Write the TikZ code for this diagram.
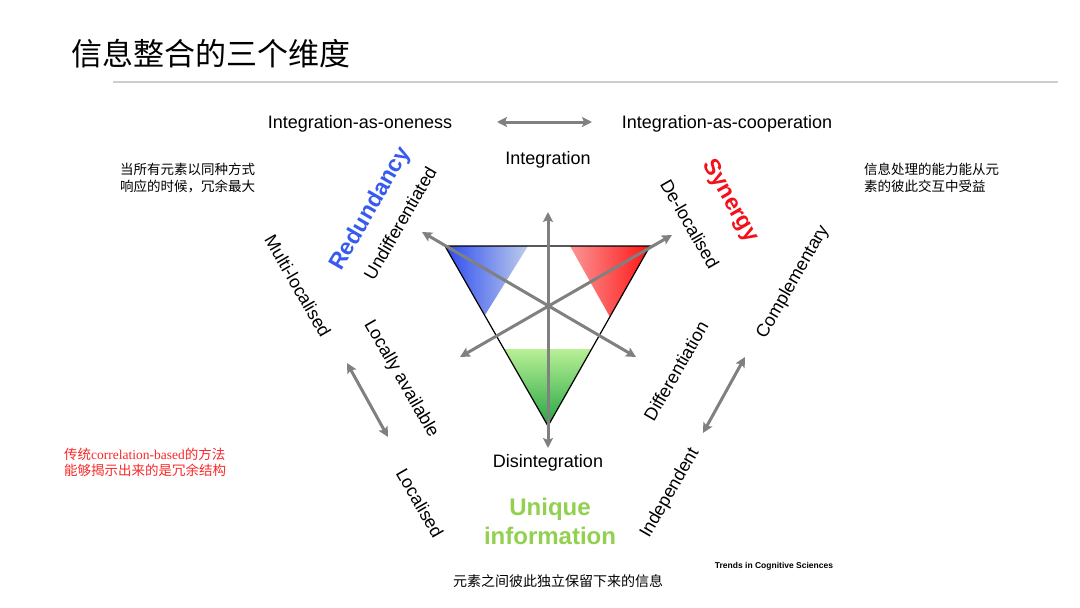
\documentclass[tikz,border=0pt]{standalone}
\usepackage{fontspec}
\setmainfont{Liberation Sans}
\newfontfamily\cjk{Noto Sans CJK SC}
\newfontfamily\serifl{Liberation Serif}
\usetikzlibrary{arrows.meta}
\definecolor{arrgray}{RGB}{128,128,128}
\definecolor{rulegray}{RGB}{205,205,205}
\definecolor{redblue}{RGB}{55,90,240}
\definecolor{synred}{RGB}{245,15,25}
\definecolor{uniqgreen}{RGB}{146,208,80}
\definecolor{noteRed}{RGB}{250,40,40}
\definecolor{blueA}{RGB}{45,75,240}
\definecolor{blueB}{RGB}{190,205,235}
\definecolor{redA}{RGB}{250,150,150}
\definecolor{redM}{RGB}{255,195,195}
\definecolor{redC}{RGB}{255,20,20}
\definecolor{greenA}{RGB}{185,240,150}
\definecolor{greenM}{RGB}{190,240,165}
\definecolor{greenC}{RGB}{35,165,65}
\tikzset{
  dblarrow/.style={draw=arrgray, line width=3pt, {Stealth[length=10pt,width=10pt,inset=2pt]}-{Stealth[length=10pt,width=10pt,inset=2pt]}},
  lbl/.style={font=\fontsize{18}{21}\selectfont, inner sep=0pt},
  bigl/.style={font=\fontsize{23}{26}\selectfont\bfseries, inner sep=0pt},
  cjknote/.style={font=\cjk\fontsize{13.5}{17}\selectfont, align=left, anchor=west, inner sep=0pt}
}
\begin{document}
\begin{tikzpicture}[x=1pt,y=-1pt]
\useasboundingbox (0,0) rectangle (1080,608);
\fill[white] (0,0) rectangle (1080,608);

% title and rule
\node[anchor=west, inner sep=0pt, font=\cjk\fontsize{31}{34}\selectfont] (title) at (71,54) {信息整合的三个维度};
\draw[rulegray, line width=1.3pt] (113,82) -- (1058,82);

% triangle vertices
\coordinate (tl) at (445,246);
\coordinate (tr) at (650,246);
\coordinate (bt) at (548,426);

% coloured corners
\shade[left color=blueA, right color=blueB] (tl) -- (528,246) -- (485,315) -- cycle;
\shade[left color=redA, middle color=redM, right color=redC] (570,246) -- (tr) -- (610,317) -- cycle;
\shade[top color=greenA, middle color=greenM, bottom color=greenC] (504,349) -- (592,349) -- (bt) -- cycle;

\draw[black, line width=1.2pt, line join=miter] (tl) -- (tr) -- (bt) -- cycle;

% central arrows
\coordinate (vtop) at (548,212);
\coordinate (vbot) at (548,448);
\coordinate (d1a) at (422,232);
\coordinate (d1b) at (636,357);
\coordinate (d2a) at (460,357);
\coordinate (d2b) at (672,235);
\draw[dblarrow] (vbot) -- (vtop);
\draw[dblarrow] (d1a) -- (d1b);
\draw[dblarrow] (d2a) -- (d2b);

% top labels
\node[lbl] (oneness) at (360,124) {Integration-as-oneness};
\node[lbl] (coop) at (727,124) {Integration-as-cooperation};
\coordinate (h1) at (497,122);
\coordinate (h2) at (592,122);
\draw[dblarrow] (h1) -- (h2);
\node[lbl] (integ) at (548,160) {Integration};
\node[lbl] (disinteg) at (548,463) {Disintegration};

% left side
\node[bigl, text=redblue, rotate=60] (redund) at (371,209) {Redundancy};
\node[lbl, rotate=60] (undiff) at (400,223) {Undifferentiated};
\node[lbl, rotate=-60] (multi) at (298,286) {Multi-localised};
\node[lbl, rotate=-60] (locav) at (401,379) {Locally available};
\node[lbl, rotate=-60] (local) at (420,503) {Localised};
\coordinate (l1) at (347,363);
\coordinate (l2) at (388,437);
\draw[dblarrow] (l1) -- (l2);

% right side
\node[bigl, text=synred, rotate=-60] (syn) at (730,201) {Synergy};
\node[lbl, rotate=-60] (deloc) at (690,224) {De-localised};
\node[lbl, rotate=60] (compl) at (793,282) {Complementary};
\node[lbl, rotate=60] (diffr) at (676,371) {Differentiation};
\node[lbl, rotate=60] (indep) at (670,493) {Independent};
\coordinate (r1) at (703,433);
\coordinate (r2) at (745,357);
\draw[dblarrow] (r1) -- (r2);

% bottom
\node[font=\fontsize{24}{29}\selectfont\bfseries, text=uniqgreen, align=center, inner sep=0pt] (uniq) at (550,521) {Unique\\information};
\node[font=\fontsize{8.5}{10}\selectfont\bfseries, inner sep=0pt] (trends) at (774,566) {Trends in Cognitive Sciences};
\node[font=\cjk\fontsize{14}{17}\selectfont, inner sep=0pt] (bnote) at (558,581) {元素之间彼此独立保留下来的信息};

% notes
\node[cjknote] (lnote) at (120,178) {当所有元素以同种方式\\响应的时候，冗余最大};
\node[cjknote] (rnote) at (864,178) {信息处理的能力能从元\\素的彼此交互中受益};
\node[cjknote, text=noteRed, font=\cjk\fontsize{13.5}{16}\selectfont] (rednote) at (64,462) {传统{\serifl correlation-based}的方法\\能够揭示出来的是冗余结构};
\end{tikzpicture}
\end{document}
